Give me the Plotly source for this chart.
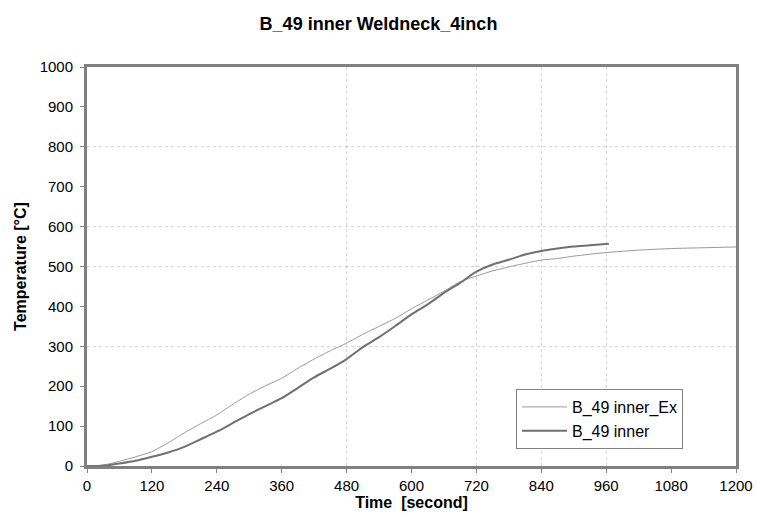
import plotly.graph_objects as go

# ---- data ----
t_ex = [0, 20, 40, 60, 90, 120, 150, 180, 210, 240, 270, 300, 330, 360, 390, 420, 450,
        480, 510, 540, 570, 600, 630, 660, 690, 720, 750, 780, 810, 840, 870, 900, 960,
        1020, 1080, 1140, 1200]
temp_ex = [0, 1, 5, 12, 23, 36, 58, 83, 106, 128, 155, 180, 201, 220, 245, 268, 289,
           308, 330, 350, 370, 394, 416, 438, 462, 476, 489, 499, 508, 516, 520, 526, 535,
           541, 545, 547, 549]

t_in = [0, 20, 40, 60, 90, 120, 150, 180, 210, 240, 270, 300, 330, 360, 390, 420, 450,
        480, 510, 540, 570, 600, 630, 660, 690, 720, 750, 780, 810, 840, 870, 900, 930, 965]
temp_in = [0, 0, 2, 6, 13, 23, 34, 48, 67, 86, 108, 130, 150, 170, 196, 222, 244,
           268, 298, 323, 351, 380, 405, 434, 459, 487, 505, 517, 530, 539, 545, 550, 553, 557]

x_ticks = [0, 120, 240, 360, 480, 600, 720, 840, 960, 1080, 1200]
y_ticks = [0, 100, 200, 300, 400, 500, 600, 700, 800, 900, 1000]
x_grid = [480, 720, 840, 960]
y_grid = [300, 500, 600, 800]

FONT = "Liberation Sans, Arial, sans-serif"

fig = go.Figure()
fig.add_trace(go.Scatter(x=t_ex, y=temp_ex, mode="lines", name="B_49 inner_Ex",
                         line=dict(color="#999999", width=1, shape="spline", smoothing=0.6)))
fig.add_trace(go.Scatter(x=t_in, y=temp_in, mode="lines", name="B_49 inner",
                         line=dict(color="#707070", width=2, shape="spline", smoothing=0.6)))
# invisible trace to host the overlay grid axes
fig.add_trace(go.Scatter(x=[None], y=[None], xaxis="x2", yaxis="y2",
                         showlegend=False, hoverinfo="skip"))

fig.update_layout(
    width=757, height=521,
    margin=dict(l=87, r=21, t=67, b=55, autoexpand=False),
    paper_bgcolor="white", plot_bgcolor="white",
    font=dict(family=FONT, size=15, color="#000000"),
    title=dict(text="<b>B_49 inner Weldneck_4inch</b>", x=0.5, xref="container",
               y=0.966, yanchor="top", font=dict(size=18, family=FONT, color="#000")),
    xaxis=dict(range=[0, 1200], tickvals=x_ticks, showgrid=False, zeroline=False,
               showline=True, mirror=True, linecolor="#808080", linewidth=3,
               ticks="outside", ticklen=4, tickcolor="#808080", tickwidth=1,
               tickfont=dict(size=15), automargin=False,
               title=dict(text="<b>Time  [second]</b>", font=dict(size=16), standoff=2)),
    yaxis=dict(range=[0, 1000], tickvals=y_ticks, showgrid=False, zeroline=False,
               showline=True, mirror=True, linecolor="#808080", linewidth=3,
               ticks="outside", ticklen=4, tickcolor="#808080", tickwidth=1,
               tickfont=dict(size=15), automargin=False, ticklabelstandoff=4,
               title=dict(text="<b>Temperature [°C]</b>", font=dict(size=16), standoff=10)),
    xaxis2=dict(overlaying="x", range=[0, 1200], tickvals=x_grid, showgrid=True,
                gridcolor="#d6d6d6", gridwidth=1, griddash="dot", showticklabels=False,
                ticks="", zeroline=False, showline=False),
    yaxis2=dict(overlaying="y", range=[0, 1000], tickvals=y_grid, showgrid=True,
                gridcolor="#d6d6d6", gridwidth=1, griddash="dot", showticklabels=False,
                ticks="", zeroline=False, showline=False),
    legend=dict(x=0.661, y=0.193, xanchor="left", yanchor="top",
                bgcolor="white", bordercolor="#808080", borderwidth=1,
                font=dict(size=16), tracegroupgap=0, itemwidth=45),
    showlegend=True,
)

fig.write_html("out.html", config={"displayModeBar": False},
               post_script="document.body.style.margin='0';")
